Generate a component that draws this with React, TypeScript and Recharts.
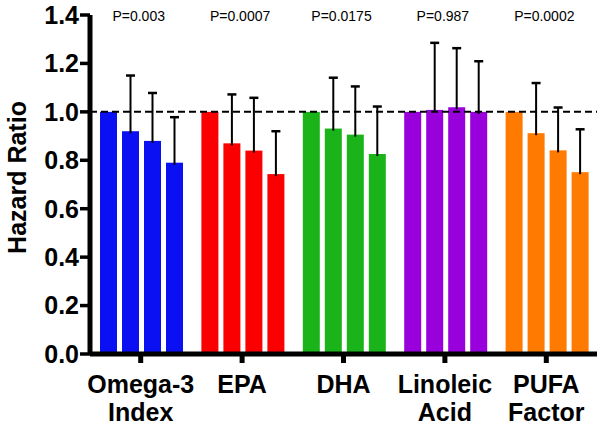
import React from 'react';
import { BarChart, Bar, XAxis, YAxis, ReferenceLine, Label, Cell } from 'recharts';

const categories = ['Omega-3 Index', 'EPA', 'DHA', 'Linoleic Acid', 'PUFA Factor'];
const labelLines = [['Omega-3', 'Index'], ['EPA'], ['DHA'], ['Linoleic', 'Acid'], ['PUFA', 'Factor']];
const pValues = ['P=0.003', 'P=0.0007', 'P=0.0175', 'P=0.987', 'P=0.0002'];

// Hazard ratios by quartile
const q1 = [1.0, 1.0, 1.0, 1.0, 1.0];
const q2 = [0.92, 0.87, 0.931, 1.008, 0.912];
const q3 = [0.88, 0.84, 0.906, 1.019, 0.841];
const q4 = [0.79, 0.743, 0.826, 1.0, 0.751];
// Upper error limits
const e2 = [1.15, 1.072, 1.141, 1.285, 1.119];
const e3 = [1.078, 1.058, 1.105, 1.263, 1.018];
const e4 = [0.978, 0.92, 1.022, 1.209, 0.928];

const yTicks = [0, 0.2, 0.4, 0.6, 0.8, 1.0, 1.2, 1.4];

const colors = ['#0a10f2', '#fa0000', '#1ab41a', '#9800dc', '#ff7a00'];

const FONT = '"Liberation Sans", Arial, Helvetica, sans-serif';

const data = categories.map((c, i) => ({
  cat: c,
  q1: q1[i],
  q2: q2[i],
  q3: q3[i],
  q4: q4[i],
  e2: e2[i],
  e3: e3[i],
  e4: e4[i],
}));

function makeShape(k: number) {
  return (props: any) => {
    const { x, y, width, height, payload, index } = props;
    const fill = colors[index] ?? props.fill;
    const v = payload[`q${k}`];
    const up = payload[`e${k}`];
    const els: any[] = [<rect key="r" x={x} y={y} width={width} height={height} fill={fill} />];
    if (up != null && v) {
      const pxPerUnit = height / v;
      const yTop = y + height - up * pxPerUnit;
      const cx = x + width / 2;
      els.push(<line key="l" x1={cx} x2={cx} y1={y + 2} y2={yTop} stroke="#000" strokeWidth={2} />);
      els.push(<line key="c" x1={cx - 4.5} x2={cx + 4.5} y1={yTop} y2={yTop} stroke="#000" strokeWidth={2.5} />);
    }
    return <g>{els}</g>;
  };
}

const BottomTick = (props: any) => {
  const { x, y, payload } = props;
  const lines = labelLines[payload.index] || [payload.value];
  return (
    <g>
      <text x={x} y={y} textAnchor="middle" fontFamily={FONT} fontWeight="bold" fontSize={25} fill="#000">
        {lines.map((l: string, i: number) => (
          <tspan key={i} x={x} dy={i === 0 ? 28 : 28}>{l}</tspan>
        ))}
      </text>
      <text x={x - 2} y={21} textAnchor="middle" fontFamily={FONT} fontSize={14} fill="#000">
        {pValues[payload.index]}
      </text>
    </g>
  );
};

export default function App() {
  return (
    <div style={{ position: 'absolute', left: 0, top: 0, width: 604, height: 429, background: '#fff' }}>
      <BarChart
        width={604}
        height={429}
        data={data}
        margin={{ top: 15, right: 7, bottom: 0, left: 0 }}
        barCategoryGap={10}
        barGap={5}
      >
        <XAxis
          dataKey="cat"
          height={75}
          axisLine={{ stroke: '#000', strokeWidth: 5 }}
          tickLine={{ stroke: '#000', strokeWidth: 5 }}
          tickSize={9}
          tickMargin={2}
          interval={0}
          tick={<BottomTick />}
        />
        <YAxis
          width={90}
          domain={[0, 1.4]}
          ticks={yTicks}
          interval={0}
          tickFormatter={(v: number) => v.toFixed(1)}
          axisLine={{ stroke: '#000', strokeWidth: 5 }}
          tickLine={{ stroke: '#000', strokeWidth: 3.5 }}
          tickSize={10}
          tickMargin={1}
          tick={{ fontFamily: FONT, fontWeight: 'bold', fontSize: 25, fill: '#000' }}
        >
          <Label
            content={(p: any) => {
              const vb = p.viewBox || {};
              const cx = 17;
              const cy = (vb.y ?? 15) + (vb.height ?? 339) / 2 - 7;
              return (
                <text
                  x={cx}
                  y={cy}
                  transform={`rotate(-90, ${cx}, ${cy})`}
                  textAnchor="middle"
                  dominantBaseline="central"
                  fontFamily={FONT}
                  fontWeight="bold"
                  fontSize={25}
                  fill="#000"
                >
                  Hazard Ratio
                </text>
              );
            }}
          />
        </YAxis>
        {[1, 2, 3, 4].map((k) => (
          <Bar key={k} dataKey={`q${k}`} isAnimationActive={false} shape={makeShape(k)}>
            {data.map((_, i) => (
              <Cell key={i} fill={colors[i]} />
            ))}
          </Bar>
        ))}
        <ReferenceLine y={1} stroke="#000" strokeWidth={2} strokeDasharray="7 4" />
      </BarChart>
    </div>
  );
}
